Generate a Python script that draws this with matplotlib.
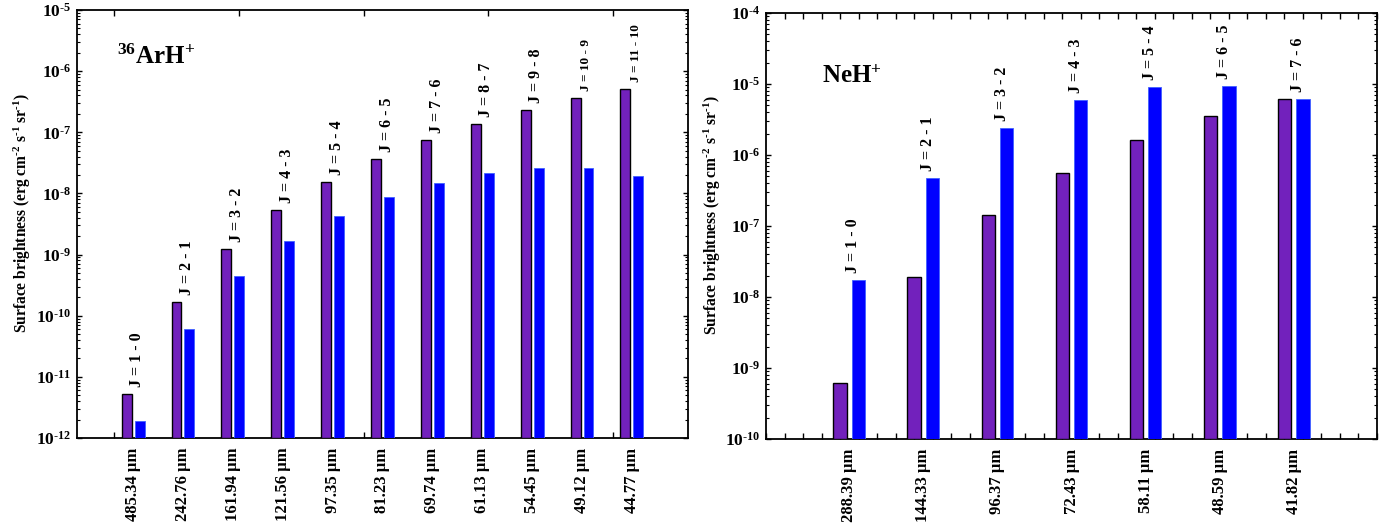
import numpy as np
import matplotlib
matplotlib.use('Agg')
import matplotlib.pyplot as plt
from matplotlib.ticker import FixedLocator, LogLocator, FuncFormatter, NullFormatter

plt.rcParams['font.family'] = 'Liberation Serif'
plt.rcParams['font.weight'] = 'bold'
plt.rcParams['mathtext.fontset'] = 'custom'
plt.rcParams['mathtext.rm'] = 'Liberation Serif:bold'
plt.rcParams['mathtext.bf'] = 'Liberation Serif:bold'
plt.rcParams['mathtext.it'] = 'Liberation Serif:bold:italic'
plt.rcParams['mathtext.default'] = 'bf'

# ---------------------------------------------------------------
# Data
# ---------------------------------------------------------------
ar_trans = ["J = 1 - 0", "J = 2 - 1", "J = 3 - 2", "J = 4 - 3", "J = 5 - 4",
            "J = 6 - 5", "J = 7 - 6", "J = 8 - 7", "J = 9 - 8", "J = 10 - 9",
            "J = 11 - 10"]
ar_wave = ["485.34", "242.76", "161.94", "121.56", "97.35", "81.23",
           "69.74", "61.13", "54.45", "49.12", "44.77"]
ar_purple = [5.2e-12, 1.68e-10, 1.25e-9, 5.3e-9, 1.53e-8, 3.6e-8,
             7.5e-8, 1.39e-7, 2.35e-7, 3.66e-7, 5.2e-7]
ar_blue = [1.9e-12, 6.1e-11, 4.4e-10, 1.67e-9, 4.35e-9, 8.7e-9,
           1.48e-8, 2.13e-8, 2.57e-8, 2.6e-8, 1.95e-8]

ne_trans = ["J = 1 - 0", "J = 2 - 1", "J = 3 - 2", "J = 4 - 3", "J = 5 - 4",
            "J = 6 - 5", "J = 7 - 6"]
ne_wave = ["288.39", "144.33", "96.37", "72.43", "58.11", "48.59", "41.82"]
ne_purple = [6.1e-10, 1.91e-8, 1.42e-7, 5.65e-7, 1.61e-6, 3.5e-6, 6.1e-6]
ne_blue = [1.74e-8, 4.73e-7, 2.39e-6, 5.93e-6, 9.1e-6, 9.5e-6, 6.1e-6]

PURPLE = "#7221bc"
BLUE = "#0000ff"
YLABEL = r"Surface brightness (erg cm$^{\text{-}2}$ s$^{\text{-}1}$ sr$^{\text{-}1}$)"


def draw_panel(ax, trans, wave, purple, blue, ylim, tick_pos, title, title_xy,
               width, off, label_x):
    x = np.arange(len(wave))
    ymin = ylim[0]
    ax.set_yscale('log')
    ax.bar(x - off, np.array(purple) - ymin, bottom=ymin, width=width,
           color=PURPLE, edgecolor='black', linewidth=1.0, zorder=3)
    ax.bar(x + off, np.array(blue) - ymin, bottom=ymin, width=width,
           color=BLUE, edgecolor='#4060ff', linewidth=0.6, zorder=3)

    for i, t in enumerate(trans):
        top = max(purple[i], blue[i])
        fs = 9.5 if len(t) > 9 else 11.5
        ax.annotate(t, xy=(x[i], top), xytext=(3, 5), textcoords='offset points',
                    rotation=90, ha='center', va='bottom', fontsize=fs,
                    fontweight='bold')

    ax.set_ylim(*ylim)
    ax.set_xlim(-1.125, len(wave) + 0.125)

    # labels at group centres, tick marks elsewhere
    ax.xaxis.set_major_locator(FixedLocator(x))
    ax.set_xticklabels([w + " \u03bcm" for w in wave], rotation=90,
                       fontsize=12, fontweight='bold')
    ax.xaxis.set_minor_locator(FixedLocator(tick_pos))
    ax.tick_params(axis='x', which='major', length=0, pad=7)
    ax.tick_params(axis='x', which='minor', direction='in', length=4.3,
                   width=1, top=True, bottom=True)

    ax.yaxis.set_major_locator(LogLocator(base=10, numticks=20))
    ax.yaxis.set_minor_locator(LogLocator(base=10, subs=np.arange(2, 10),
                                          numticks=20))
    ax.yaxis.set_major_formatter(FuncFormatter(
        lambda v, p: r"$\mathbf{10^{\text{-}%d}}$" % abs(round(np.log10(v)))))
    ax.yaxis.set_minor_formatter(NullFormatter())
    ax.tick_params(axis='y', which='major', direction='in', length=3.6,
                   width=1, left=True, right=True, labelsize=12.5, pad=4)
    ax.tick_params(axis='y', which='minor', direction='in', length=2.2,
                   width=0.8, left=True, right=True)

    for s in ax.spines.values():
        s.set_linewidth(1.3)

    ax.set_ylabel(YLABEL, fontsize=11.2, fontweight='bold')
    ax.yaxis.set_label_coords(label_x, 0.526)
    ax.text(title_xy[0], title_xy[1], title, transform=ax.transAxes,
            fontsize=18, fontweight='bold', ha='left', va='baseline')


fig = plt.figure(figsize=(13.95, 5.31), dpi=100)
ax1 = fig.add_axes([77 / 1395, 93 / 531, 611 / 1395, 428 / 531])
ax2 = fig.add_axes([766 / 1395, 92 / 531, 611 / 1395, 426 / 531])

draw_panel(ax1, ar_trans, ar_wave, ar_purple, ar_blue, (1e-12, 1e-5),
           [-0.375, 2.125, 4.625, 7.125, 9.625],
           r"$^{36}$ArH$^{+}$", (0.066, 0.875), 0.2, 0.13, -0.072)
draw_panel(ax2, ne_trans, ne_wave, ne_purple, ne_blue, (1e-10, 1e-4),
           np.arange(-1.125, 7.13, 0.25),
           r"NeH$^{+}$", (0.091, 0.835), 0.18, 0.125, -0.070)

fig.savefig("out.png", dpi=100)
